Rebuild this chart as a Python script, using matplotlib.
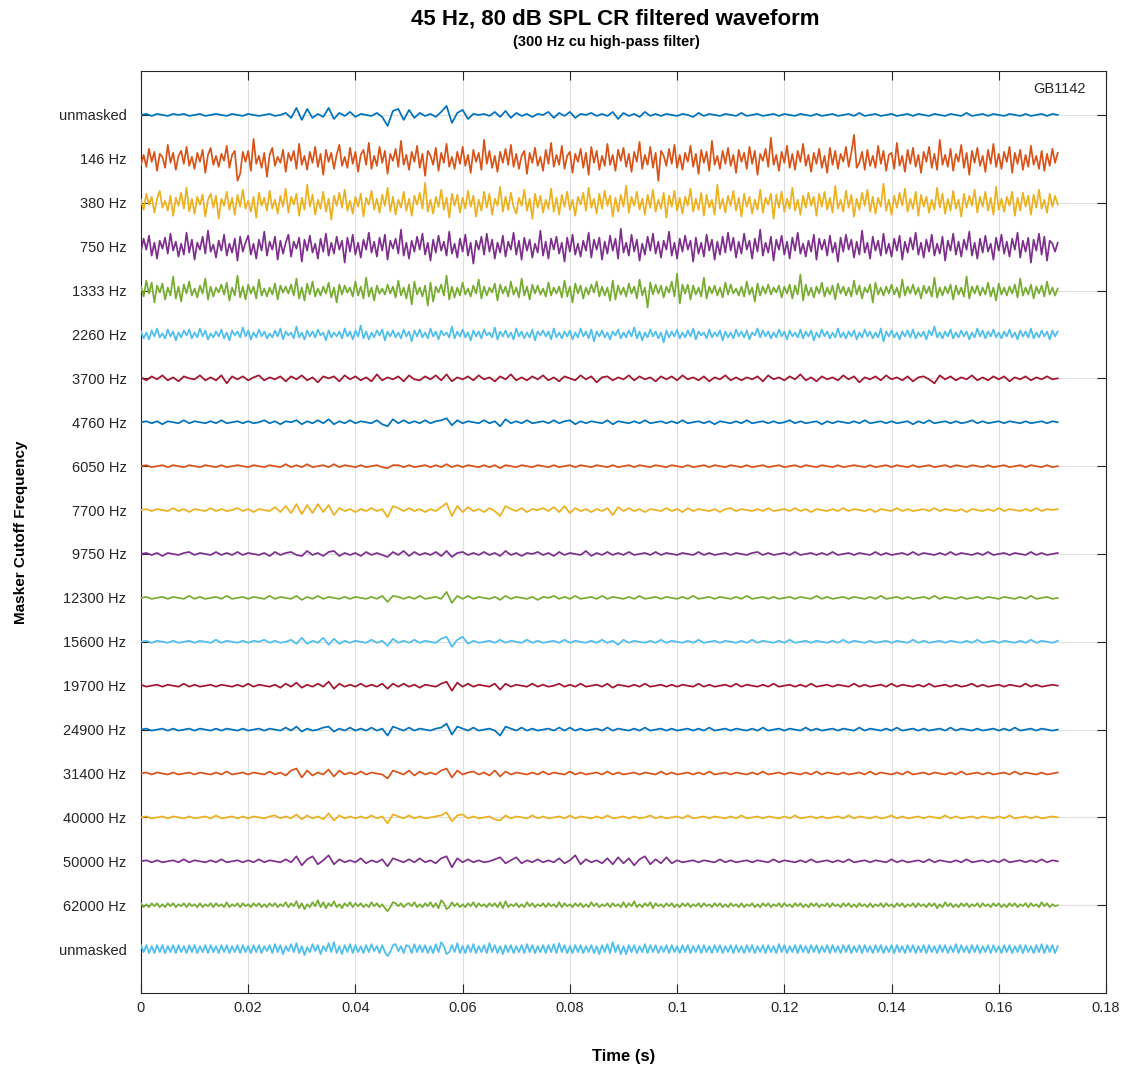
import numpy as np
import matplotlib
matplotlib.use("Agg")
import matplotlib.pyplot as plt

# Waveforms, in pixels of deflection (positive = up).
# "fine" traces are sampled every 0.5 ms, the rest every 1 ms.
DT_FINE = 0.0005
DT_COARSE = 0.001
PX_PER_ROW = 44.0

labels = ["unmasked", "146 Hz", "380 Hz", "750 Hz", "1333 Hz", "2260 Hz",
          "3700 Hz", "4760 Hz", "6050 Hz", "7700 Hz", "9750 Hz", "12300 Hz",
          "15600 Hz", "19700 Hz", "24900 Hz", "31400 Hz", "40000 Hz",
          "50000 Hz", "62000 Hz", "unmasked"]

unmasked_top = [
    0, 1, -1, 1, 0, -1, 1, 0, 1, -1, 0, 1, -1, 0, 1, 0, -1, 1, 0, -1,
    1, 0, -1, 0, 1, -1, 0, 2, -3, 7, -5, 6, -3, 1, -2, 7, -4, 2, -1, 3,
    -2, 1, 0, -1, 2, -2, -11, 4, 6, -5, 5, -3, 2, -1, 1, -2, 3, 9, -8, 2,
    5, -4, 1, 0, 1, -1, 3, -2, 4, -3, 2, -1, 1, -2, 1, 0, 3, -3, 2, -1,
    3, -3, 1, 0, 2, -1, 1, -1, 3, -4, 2, -1, 1, -2, 3, -1, 1, -1, 1, 0,
    -1, 1, 0, -2, 2, -1, 1, 0, -1, 1, 0, -1, 2, -1, 0, 1, -1, 0, 1, -1,
    1, 0, -1, 1, 0, -1, 1, -1, 0, 1, -1, 0, 1, -1, 2, -1, 0, 1, -1, 0,
    1, -1, 0, 1, -1, 1, 0, -1, 1, 0, -1, 1, 0, -1, 2, -1, 0, 1, -1, 1,
    0, -1, 1, 0, -1, 1, -1, 0, 1, -1, 1, 0]

m146 = [
    -6, 4, -8, 10, -3, 7, -12, 5, 2, -9, 14, -4, 6, -11, 3, 8, -5, 12, -7, 2,
    -10, 6, -3, 9, -14, 4, 11, -6, 3, -8, 5, -2, 13, -9, 4, 8, -22, -15, 7, -3,
    8, -12, 20, -5, 3, -9, 6, -18, 4, 11, -7, 2, -4, 9, -13, 6, -2, 8, -10, 15,
    -6, 3, -11, 7, -4, 12, -8, 5, -16, 9, -3, 6, -10, 4, 14, -7, 2, -9, 11, -5,
    7, -13, 4, 9, -6, 16, -10, 3, -7, 12, -4, 8, -15, 5, -2, 10, -8, 18, -6, 4,
    -11, 7, -3, 13, -9, 5, -17, 8, 3, -6, 11, -12, 6, -4, 15, -8, 2, -10, 7, -5,
    12, -7, 4, -14, 9, -3, 6, -11, 19, -5, 8, -9, 3, -13, 7, -4, 10, -6, 14, -8,
    5, -10, 3, 8, -15, 6, -4, 11, -7, 2, -12, 9, -5, 16, -8, 4, -6, 13, -10, 3,
    7, -14, 5, -3, 10, -9, 6, -16, 12, -4, 8, -11, 3, -7, 15, -6, 4, -12, 9, -2,
    11, -8, 5, -13, 7, -3, 17, -10, 4, -6, 12, -9, 6, -22, 8, 3, -7, 10, -5, 14,
    -9, 4, -11, 6, -3, 13, -8, 5, -15, 9, -4, 7, -12, 18, -6, 3, -10, 8, -5, 11,
    -7, 4, -14, 9, -3, 6, -10, 12, -5, 8, -16, 5, -2, 10, -8, 21, -6, 4, -12, 7,
    -4, 13, -9, 5, -11, 8, -3, 15, -7, 4, -13, 6, -5, 10, -9, 3, -14, 11, -6, 8,
    -10, 5, -3, 12, -8, 6, 24, -9, -4, 7, -11, 9, -7, 3, -9, 13, -5, 8, -12, 4,
    6, -10, 16, -7, 3, -13, 9, -5, 11, -8, 4, -14, 7, -3, 12, -9, 5, -11, 19, -6,
    4, -8, 10, -12, 5, -3, 14, -9, 6, -16, 8, -4, 11, -7, 3, -13, 9, -5, 15, -8,
    5, -10, 7, -3, 12, -14, 6, -5, 9, -11, 4, -8, 13, -6, 3, -10, 8, -12, 5, -7,
    10, -4, 6]

m380 = [
    3, -7, 9, -2, 6, -10, 4, 12, -5, 2, -8, 7, -13, 5, -3, 10, -6, 15, -9, 4,
    -11, 6, -2, 8, -14, 3, 9, -5, 7, -16, 4, -3, 11, -7, 5, -12, 8, -4, 13, -6,
    2, -9, 6, -15, 10, -3, 5, -8, 12, -6, 3, -11, 7, -4, 14, -10, 6, -2, 9, -13,
    5, -7, 18, -4, 8, -12, 3, -6, 11, -9, 4, -17, 7, -3, 10, -5, 13, -8, 2, -11,
    6, -4, 9, -14, 5, -2, 12, -7, 4, -10, 8, -3, 15, -9, 6, -12, 3, -5, 11, -8,
    4, -13, 7, -2, 10, -6, 20, -9, 3, -11, 6, -4, 13, -7, 5, -15, 9, -3, 8, -10,
    5, -6, 12, -4, 7, -14, 3, -8, 11, -5, 9, -12, 4, -3, 16, -9, 6, -7, 10, -4,
    -11, 5, -3, 13, -8, 4, -16, 9, -5, 7, -10, 3, -6, 14, -9, 5, -12, 8, -4, 11,
    -7, 3, -13, 6, -2, 10, -8, 15, -5, 4, -11, 9, -6, 12, -3, 7, -14, 5, -9, 8,
    -4, 17, -10, 6, -3, 11, -7, 4, -12, 8, -5, 13, -9, 3, -6, 10, -15, 7, -4, 12,
    -8, 5, -11, 6, -3, 14, -9, 4, -7, 10, -13, 8, -5, 3, -12, 18, -6, 4, -10, 7,
    -3, 12, -8, 5, -14, 9, -4, 6, -11, 3, -7, 13, -10, 5, -2, 9, -16, 8, -5, 11,
    -9, 4, -6, 15, -8, 3, -12, 7, -5, 10, -3, 6, -13, 9, -4, 11, -7, 5, -10, 17,
    -6, 3, -9, 12, -5, 8, -14, 4, -7, 10, -3, 13, -9, 6, -11, 5, -4, 19, -8, 3,
    -12, 7, -5, 10, -3, 14, -9, 4, -6, 11, -13, 8, -4, 6, -10, 3, -7, 15, -5, 9,
    -11, 4, -8, 12, -6, 3, -14, 9, -5, 7, -3, 13, -10, 6, -4, 11, -8, 5, -12, 16,
    -7, 4, -9, 6, -3, 11, -13, 5, -8, 10, -4, 7, -12, 8, -5, 13, -6, 3, -10, 9,
    -4, 7, -2]

m750 = [
    -5, 8, -3, 11, -9, 4, -12, 6, -2, 9, -7, 13, -4, 5, -10, 3, -8, 14, -6, 7,
    -13, 4, -3, 10, -7, 16, -5, 2, -11, 6, -4, 12, -9, 3, -6, 8, -14, 10, -5, 4,
    11, -8, 3, -12, 7, -4, 15, -9, 5, -3, 10, -13, 6, -7, 4, 12, -10, 5, -2, 9,
    -15, 7, -4, 11, -6, 3, -12, 8, -5, 13, -9, 4, -7, 10, -3, 6, -16, 9, -5, 12,
    -8, 4, -11, 7, -3, 14, -6, 5, -10, 9, -4, 12, -13, 6, -2, 8, -7, 17, -9, 4,
    -12, 6, -5, 10, -3, 13, -8, 4, -14, 7, -6, 11, -4, 5, -9, 15, -7, 3, -11, 8,
    -5, 12, -9, 4, -17, 6, -3, 10, -8, 13, -5, 7, -12, 4, -6, 11, -10, 5, -3, 14,
    -8, 6, -13, 9, -4, 7, -11, 3, -6, 16, -9, 5, -12, 8, -3, 10, -7, 4, -15, 9,
    -5, 12, -8, 3, -10, 6, -4, 14, -11, 7, -3, 9, -13, 5, -7, 11, -4, 8, -12, 18,
    -6, 4, -9, 12, -5, 7, -14, 3, -8, 10, -4, 13, -7, 5, -11, 6, -3, 15, -9, 4,
    -12, 8, -5, 11, -3, 6, -15, 9, -7, 4, -10, 12, -4, 7, -13, 5, -8, 10, -6, 14,
    -4, 9, -11, 5, -7, 13, -3, 6, -12, 8, -5, 17, -9, 4, -6, 10, -14, 7, -3, 11,
    -8, 5, -12, 9, -4, 14, -7, 3, -10, 6, -5, 12, -13, 8, -3, 7, -9, 11, -6, 4,
    -15, 9, -5, 12, -3, 7, -11, 5, -8, 16, -6, 4, -12, 10, -4, 6, -9, 13, -7, 3,
    -10, 8, -4, 11, -13, 5, -6, 9, -3, 14, -8, 4, -11, 7, -5, 12, -9, 3, -7, 10,
    -14, 6, -4, 13, -8, 5, -10, 7, -3, 15, -9, 4, -12, 8, -6, 11, -5, 3, -13, 9,
    -4, 12, -7, 5, -10, 8, -3, 14, -11, 6, -5, 9, -16, 7, -4, 13, -8, 10, -14, 6,
    3, -5, 4]

m1333 = [
    4, -6, 10, -3, 8, -12, 5, -2, 7, -9, 3, -5, 14, -8, 4, -11, 6, -3, 9, -5,
    2, -7, 5, -3, 12, -9, 4, -6, 3, -2, 6, -4, 8, -10, 3, -5, 15, -7, 4, -9,
    6, -3, 4, -8, 11, -5, 2, -6, 3, -4, 7, -9, 5, -2, 4, -3, 6, -5, 12, -8,
    3, -10, 7, -4, 9, -6, 2, -5, 4, -3, 8, -7, 3, -12, 6, -4, 5, -2, 3, -6,
    9, -5, 4, -8, 13, -6, 3, -10, 5, -3, 2, -4, 6, -3, 4, -7, 10, -5, 3, -8,
    6, -14, 9, -4, 3, -6, 5, -15, 8, -11, 4, -2, 6, -5, 15, -9, 4, -7, 3, -5,
    8, -4, 2, -6, 5, -3, 11, -8, 4, -5, 3, -2, 7, -10, 6, -3, 4, -6, 9, -4,
    3, -7, 12, -5, 4, -9, 6, -3, 5, -4, 2, -6, 8, -5, 3, -3, 4, -7, 10, -6,
    4, -12, 7, -3, 5, -8, 3, -4, 6, -2, 9, -6, 4, -5, 3, -10, 10, -9, 5, -4,
    3, -6, 7, -3, 4, -8, 11, -5, 3, -17, 8, -4, 6, -3, 5, -7, 4, -2, 9, -6,
    17, -13, 6, -3, 6, -9, 5, -4, 3, -6, 13, -8, 4, -3, 5, -5, 3, -7, 8, -4,
    6, -3, 2, -5, 4, -6, 9, -4, 3, -11, 7, -5, 4, -3, 6, -4, 3, -2, 5, -7,
    4, -3, 6, -8, 5, -4, 16, -10, 6, -5, 3, -7, 4, -3, 8, -6, 3, -4, 5, -9,
    7, -3, 4, -5, 3, -6, 10, -4, 5, -8, 3, -2, 6, -12, 8, -4, 3, -5, 4, -3,
    6, -4, 3, -7, 11, -5, 4, -3, 6, -4, 3, -8, 5, -3, 4, -6, 13, -7, 3, -5,
    4, -3, 6, -9, 5, -4, 3, -6, 14, -8, 4, -3, 5, -5, 3, -4, 8, -6, 3, -10,
    7, -4, 3, -5, 4, -3, 6, -7, 12, -5, 3, -4, 6, -8, 4, -3, 5, -6, 9, -4,
    3, -5, 2]

m2260 = [
    3, -4, 2, -5, 4, -2, 6, -3, 1, -4, 5, -2, 3, -6, 2, -3, 4, -1, 5, -4,
    2, -3, 6, -2, 4, -5, 1, -3, 3, -2, 5, -4, 2, -6, 4, -1, 3, -3, 7, -2,
    4, -5, 2, -3, 5, -2, 3, -4, 1, -3, 4, -2, 6, -5, 3, -1, 2, -4, 8, -3,
    2, -5, 4, -2, 3, -3, 5, -1, 2, -6, 4, -3, 2, -2, 3, -4, 6, -2, 3, -5,
    4, -2, 9, -4, 3, -5, 2, -3, 4, -1, 5, -6, 3, -2, 4, -3, 2, -4, 5, -2,
    3, -7, 4, -2, 5, -3, 2, -4, 6, -2, 3, -5, 4, -1, 2, -3, 8, -4, 3, -2,
    5, -3, 2, -6, 4, -2, 3, -4, 5, -1, 2, -3, 7, -5, 3, -2, 4, -3, 2, -5,
    6, -2, 3, -4, 2, -3, 5, -6, 3, -1, 4, -2, 3, -5, 6, -3, 2, -4, 3, -2,
    4, -5, 2, -3, 6, -2, 3, -4, 5, -7, 3, -2, 4, -3, 2, -5, 3, -1, 5, -4,
    2, -3, 4, -2, 7, -4, 3, -6, 2, -3, 5, -2, 3, -4, 2, -8, 4, -3, 3, -2,
    5, -4, 2, -3, 4, -2, 6, -5, 3, -1, 2, -4, 5, -3, 2, -2, 4, -6, 3, -3,
    2, -4, 5, -2, 3, -3, 4, -5, 2, -1, 6, -3, 4, -2, 3, -4, 2, -3, 5, -2,
    3, -5, 4, -2, 2, -3, 5, -4, 3, -2, 4, -6, 2, -3, 5, -2, 3, -4, 2, -3,
    6, -3, 2, -4, 3, -2, 4, -5, 2, -3, 5, -2, 3, -4, 2, -3, 6, -7, 3, -2,
    4, -3, 2, -5, 3, -2, 4, -3, 5, -4, 2, -2, 3, -5, 4, -1, 8, -3, 2, -4,
    3, -2, 5, -4, 2, -3, 4, -2, 3, -5, 2, -3, 6, -2, 4, -4, 3, -2, 5, -3,
    2, -4, 3, -2, 5, -3, 2, -5, 4, -2, 3, -3, 6, -4, 2, -3, 4, -2, 3, -5,
    4, -2, 3]

m3700 = [
    1, -2, 2, -1, 3, -2, 1, -3, 2, 0, -1, 3, -2, 1, -2, 3, -5, 2, -1, 2,
    -2, 1, 3, -2, 1, -1, 2, -3, 2, -1, 3, -2, 1, -4, 2, 0, 2, -3, 3, -1,
    2, -2, 1, -3, 4, -2, 1, -1, 2, -3, 3, -1, -2, 2, -1, 3, -2, 4, -3, 1,
    -1, 2, -2, 3, -1, 1, -3, 2, -1, 4, -2, 1, -2, 2, -1, 3, -2, 1, -3, 2,
    0, -2, 3, -1, 2, -4, 1, 2, -2, 1, -1, 3, -2, 2, -1, 1, -3, 2, -1, 2,
    -2, 3, -1, 1, -2, 2, -3, 1, -1, 3, -2, 1, -2, 1, -1, 2, -3, 3, -1, 1,
    -2, 2, -1, 4, -2, 1, -3, 2, -1, 1, -2, 3, -1, 2, -4, 1, -1, 2, -2, 3,
    -1, 1, -2, 2, -3, 1, 2, -1, -5, 3, -1, 2, -2, 1, -1, 3, -2, 1, -2, 2,
    -1, 2, -3, 1, -1, 2, -2, 1, -1, 2, -1, 0]

m4760 = [
    0, 1, -1, 1, -2, 1, 0, -1, 2, -1, 1, 0, -1, 1, -1, 2, -1, 0, 1, -1,
    1, -1, 0, 2, -1, 1, -2, 1, 0, 2, -2, 1, -1, 2, -1, 3, -2, 1, -1, 2,
    -1, 1, 0, -1, 2, -2, -4, 3, -1, 2, -1, 1, -1, 2, -1, 1, 2, 4, -3, 2,
    -1, 1, 0, -1, 2, -1, 1, -4, 3, -1, 1, -1, 2, -1, 0, 1, -1, 2, -1, 1,
    2, -2, 1, -1, 1, 0, -1, 2, -2, 1, 0, -1, 1, -1, 2, -1, 0, 1, -1, 1,
    -1, 2, -1, 0, 1, -1, 1, -2, 1, 0, -1, 1, -1, 2, -1, 0, 1, -1, 1, -1,
    0, 2, -1, 1, -1, 0, 1, -2, 1, -1, 1, 0, -1, 1, -1, 2, -1, 0, 1, -1,
    1, -1, 0, 1, -2, 1, -1, 2, -1, 0, 1, -1, 1, -1, 0, 2, -1, 1, -1, 0,
    1, -1, 1, 0, -1, 1, -1, 0, 1, -1, 1, 0]

m6050 = [
    0, 1, -1, 0, 1, -1, 1, 0, -1, 1, 0, -1, 1, 0, -1, 1, -1, 0, 1, 0,
    -1, 1, 0, -1, 1, 0, -1, 2, -1, 1, -1, 2, -1, 0, 1, -1, 2, -1, 1, 0,
    -1, 1, -1, 0, 1, -1, -2, 1, 1, -1, 1, -1, 0, 1, -1, 1, -1, 2, -1, 1,
    -1, 1, 0, -1, 1, -1, 1, -2, 1, 0, -1, 1, 0, -1, 1, 0, -1, 1, -1, 0,
    1, -1, 1, 0, -1, 1, 0, -1, 1, -1, 0, 1, -1, 1, 0, -1, 1, 0, -1, 1,
    0, -1, 1, -1, 0, 1, -1, 1, 0, -1, 1, 0, -1, 1, -1, 0, 1, -1, 0, 1,
    -1, 0, 1, -1, 1, 0, -1, 1, 0, -1, 1, -1, 0, 1, 0, -1, 1, -1, 0, 1,
    -1, 1, 0, -1, 1, -1, 0, 1, -1, 0, 1, -1, 1, 0, -1, 1, 0, -1, 1, -1,
    0, 1, -1, 0, 1, -1, 1, 0, -1, 1, -1, 0]

m7700 = [
    0, 1, -1, 1, 0, -1, 2, -1, 1, -2, 1, 0, -1, 2, -1, 1, -1, 0, 2, -1,
    1, -2, 1, 0, -1, 3, -2, 4, -3, 6, -4, 5, -3, 6, -2, 5, -5, 2, -1, 1,
    -2, 1, -1, 2, -1, 1, -7, 4, 2, -1, 2, -1, 1, -2, 1, -1, 3, 7, -6, 4,
    -2, 3, -1, 1, -2, 2, -1, -6, 4, 1, -1, 2, -2, 1, 0, 2, -1, 3, -2, 4,
    -3, 2, -1, 1, -2, 1, -1, 2, -5, 3, -1, 2, -1, 1, -2, 1, 0, -1, 2, -1,
    1, -2, 2, -1, 1, 0, -1, 1, -2, 1, 2, -1, 1, 0, -1, 1, -1, 2, -1, 0,
    1, -1, 2, -1, 1, -2, 1, 0, -1, 1, -1, 2, -1, 1, 0, -1, 1, -2, 1, 0,
    -1, 2, -1, 1, -1, 0, 1, -1, 2, -1, 1, 0, -1, 1, -2, 1, 0, -1, 1, -1,
    2, -1, 1, 0, -1, 1, -1, 2, -1, 1, 0, 1]

m9750 = [
    0, 1, -1, 1, -2, 1, 0, -1, 1, 2, -1, 1, 0, -1, 2, -1, 1, -1, 2, -1,
    1, 0, -1, 1, -2, 2, -1, 1, 2, -1, -2, 3, -1, 1, -2, 2, 3, -2, 1, -1,
    1, -2, 2, -1, 1, -1, -3, 2, -1, 3, -2, 2, -1, 1, -1, 2, -2, 3, -3, 1,
    2, -1, 1, -1, 2, -1, 1, -2, 3, -1, 1, -2, 1, 0, 2, -1, 1, -2, 2, -1,
    1, 0, -1, 3, -2, 1, -1, 2, -1, 1, -1, 2, -1, 0, 1, -1, 2, -1, 1, 0,
    -1, 1, 0, -1, 2, -1, 1, -1, 0, 1, -1, 1, 0, -1, 1, 2, -1, 1, -1, 0,
    1, -1, 2, -1, 0, 1, -1, 1, -1, 2, -1, 0, 1, -1, 1, 0, -1, 2, -1, 1,
    -1, 0, 1, -1, 2, -1, 1, 0, -1, 1, -1, 2, -1, 1, 0, -1, 1, -1, 2, -1,
    0, 1, -1, 1, 0, -1, 2, -1, 1, -1, 0, 1]

m12300 = [
    0, 1, -1, 0, 1, -1, 1, 0, -1, 2, -1, 1, -1, 0, 1, -1, 2, -1, 0, 1,
    -1, 1, 0, -1, 2, -1, 1, 0, -1, 2, -2, 1, -1, 2, -1, 1, 0, -1, 1, -1,
    1, 0, -1, 1, -1, 2, -4, 2, 1, -1, 1, -1, 2, -1, 0, 1, -1, 6, -5, 2,
    -1, 2, -1, 1, 0, -1, 1, -2, 2, -1, 1, 0, -1, 1, -2, 1, 0, 2, -1, 1,
    -1, 2, -1, 0, 1, -1, 2, -1, 1, 0, -1, 1, -1, 2, -1, 0, 1, -1, 1, 0,
    -1, 1, -1, 2, -1, 0, 1, -1, 1, 0, -1, 1, -1, 2, -1, 0, 1, -1, 1, -1,
    0, 1, -1, 1, 0, -1, 2, -1, 1, -1, 0, 1, -1, 1, 0, -1, 1, -1, 2, -1,
    0, 1, -1, 1, -1, 0, 1, -1, 2, -1, 1, 0, -1, 1, -1, 0, 1, -1, 1, 0,
    -1, 1, 0, -1, 1, -1, 2, -1, 0, 1, -1, 0]

m15600 = [
    0, 1, -1, 1, 0, -1, 1, -1, 0, 1, -1, 1, 0, -1, 2, -1, 1, 0, -1, 1,
    -1, 1, 0, 2, -1, 1, -1, 0, 2, -2, 4, -2, 1, -1, 4, -3, 3, -2, 1, -1,
    1, 0, -1, 2, -1, 1, -4, 3, -1, 1, -1, 2, -1, 1, 0, -1, 3, 5, -5, 2,
    5, -2, 1, -1, 0, 1, -1, 2, -1, 1, 0, -1, 2, -1, 1, -1, 0, 1, -1, 2,
    -1, 1, 0, -1, 1, -1, 2, -1, 1, -3, 2, -1, 1, 0, -1, 1, -1, 2, -1, 1,
    0, -1, 1, -1, 2, -1, 0, 1, -1, 1, 0, -1, 1, -1, 2, -1, 1, 0, -1, 1,
    -1, 2, -1, 0, 1, -1, 1, 0, -1, 1, -1, 2, -1, 1, 0, -1, 1, -1, 0, 1,
    -1, 1, 0, -1, 2, -1, 1, -1, 0, 1, -1, 1, 0, -1, 1, -1, 2, -1, 0, 1,
    -1, 1, 0, -1, 1, -1, 2, -1, 1, 0, -1, 1]

m19700 = [
    1, -1, 0, 1, -1, 1, 0, -1, 2, -1, 1, -1, 0, 1, -1, 1, 0, -1, 1, -1,
    2, -1, 1, 0, -1, 1, -2, 2, -1, 3, -2, 1, -1, 2, -1, 4, -3, 2, -1, 1,
    -1, 2, -1, 1, -1, 2, -3, 2, -1, 2, -1, 1, -2, 1, 0, -1, 2, 4, -5, 3,
    -1, 2, -1, 1, 0, -1, 2, -4, 2, -1, 1, 0, -1, 2, -1, 1, -1, 0, 2, -1,
    1, -1, 2, -1, 0, 1, -1, 2, -2, 1, 0, -1, 1, -1, 2, -1, 0, 1, -1, 1,
    -1, 1, 0, -1, 2, -1, 1, -1, 0, 1, -1, 2, -1, 1, 0, -1, 1, -1, 2, -1,
    0, 1, -1, 1, -1, 2, -1, 0, 1, -1, 1, 0, -1, 2, -1, 1, -1, 0, 1, -1,
    2, -1, 1, 0, -1, 1, -1, 2, -1, 0, 1, -1, 1, -1, 0, 2, -1, 1, -1, 0,
    1, -1, 1, 0, -1, 2, -1, 1, -1, 0, 1, 0]

m24900 = [
    0, 1, -1, 0, 1, -1, 1, -1, 0, 1, -1, 1, 0, -1, 1, -1, 1, 0, -1, 1,
    -1, 0, 1, -1, 1, 0, -1, 2, -1, 3, -2, 1, -1, 0, 2, 3, -2, 1, -1, 2,
    -1, 1, -1, 2, -1, 1, -6, 3, 1, -1, 2, -1, 1, 0, -1, 1, 2, 6, -5, 3,
    1, -1, 2, -1, 0, 1, -1, -6, 3, 1, -1, 2, -1, 1, -1, 0, 1, -1, 2, -1,
    2, -1, 1, -1, 0, 1, -1, 2, -1, 1, 0, -1, 1, -1, 2, -1, 0, 1, -1, 1,
    -1, 0, 1, -1, 1, -1, 2, -1, 0, 1, -1, 1, 0, -1, 1, -1, 2, -1, 0, 1,
    -1, 1, 0, -1, 2, -1, 1, -1, 0, 1, -1, 1, 0, -1, 2, -1, 1, 0, -1, 1,
    -1, 2, -1, 0, 1, -1, 1, -1, 0, 1, -1, 2, -1, 1, 0, -1, 1, -1, 0, 1,
    -1, 1, -1, 2, -1, 0, 1, -1, 1, 0, -1, 0]

m31400 = [
    0, 1, -1, 1, 0, -1, 1, -1, 0, 1, -1, 1, 0, -1, 1, -1, 2, -1, 0, 1,
    -1, 1, 0, -1, 2, -1, 1, -2, 3, 5, -4, 3, -2, 1, -1, 4, -3, 3, -1, 1,
    -1, 2, -1, 1, 0, -1, -5, 3, 1, -1, 3, -2, 2, -1, 1, -1, 3, 5, -4, 3,
    -1, 1, 2, -1, 1, -2, 3, -3, 2, -1, 1, 0, -1, 1, -1, 2, -1, 1, 0, -1,
    2, -1, 1, -1, 0, 1, -1, 2, -1, 1, -1, 0, 1, -1, 1, 0, -1, 2, -1, 1,
    -1, 0, 1, -1, 1, -1, 2, -1, 0, 1, -1, 1, 0, -1, 1, -1, 2, -1, 0, 1,
    -1, 1, 0, -1, 1, -1, 2, -1, 1, 0, -1, 1, -1, 0, 1, -1, 2, -1, 1, 0,
    -1, 1, -1, 2, -1, 0, 1, -1, 1, 0, -1, 1, -1, 2, -1, 0, 1, -1, 1, -1,
    0, 1, -1, 2, -1, 1, 0, -1, 1, -1, 0, 1]

m40000 = [
    0, 1, -1, 0, 1, -1, 1, 0, -1, 1, -1, 0, 1, -1, 2, -1, 0, 1, -1, 1,
    -1, 1, 0, -1, 1, 2, -1, 1, -1, 3, -2, 2, -1, 1, -2, 4, -3, 2, -1, 1,
    -1, 1, -1, 2, -1, 1, -6, 3, 1, -1, 2, -1, 1, -1, 0, 1, 2, 5, -4, 2,
    3, -1, 1, -1, 0, 1, -2, -3, 2, -1, 1, 0, -1, 2, -1, 1, -1, 0, 1, -1,
    2, -1, 1, 0, -1, 1, -1, 2, -1, 0, 1, -1, 1, -1, 0, 2, -1, 1, -1, 0,
    1, -1, 2, -1, 0, 1, -1, 1, 0, -1, 1, -1, 2, -1, 0, 1, -1, 1, 0, -1,
    1, -1, 2, -1, 0, 1, -1, 1, -1, 0, 1, -1, 2, -1, 1, 0, -1, 1, -1, 0,
    2, -1, 1, -1, 0, 1, -1, 1, 0, -1, 2, -1, 1, -1, 0, 1, -1, 1, 0, -1,
    1, -1, 2, -1, 0, 1, -1, 1, -1, 0, 1, 0]

m50000 = [
    0, 1, -1, 1, -1, 0, 1, -1, 2, -1, 1, 0, -1, 1, -1, 2, -1, 0, 1, -1,
    1, -1, 2, -1, 1, 0, -1, 2, -1, 5, -4, 2, 5, -3, 1, 6, -3, 2, -1, 1,
    -1, 3, -2, 1, -1, 2, -5, 3, 1, -1, 2, -1, 3, -1, 1, -2, 3, 5, -6, 3,
    -1, 2, -1, 1, -1, 0, 2, 4, -2, 1, 4, -2, 1, -1, 2, -1, 1, -1, 3, -2,
    1, 6, -3, 2, -1, 1, -2, 3, -3, 4, -2, 3, -4, 2, 5, -3, 2, -2, 4, -2,
    1, -1, 0, 1, -1, 1, 0, -1, 2, -1, 1, -1, 0, 1, -1, 1, 0, -1, 2, -1,
    1, 0, -1, 1, -1, 2, -1, 0, 1, -1, 1, -1, 2, -1, 0, 1, -1, 1, 0, -1,
    2, -1, 1, -1, 0, 1, -1, 2, -1, 1, 0, -1, 1, -1, 2, -1, 0, 1, -1, 1,
    -1, 2, -1, 0, 1, -1, 1, -1, 2, -1, 1, 0]

m62000 = [
    2, -2, 1, -2, 2, -1, 2, -2, 1, -2, 2, -1, 2, -2, 1, -1, 2, -2, 2, -1,
    1, -2, 2, -2, 1, -1, 2, -2, 2, -1, 1, -2, 3, -2, 1, -1, 2, -2, 2, -1,
    1, -2, 2, -1, 2, -2, 1, -2, 2, -1, 2, -2, 1, -1, 3, -2, 2, -1, 4, -3,
    2, -4, 1, -2, 3, -1, 5, -2, 3, -3, 2, -1, 4, -2, 1, -3, 2, -1, 3, -2,
    2, -1, 2, -2, 1, -2, 3, -1, 2, -2, 1, -3, -6, -2, 3, 2, -1, 2, -2, 1,
    2, -1, 3, -2, 1, -2, 2, -1, 3, -2, 2, -3, 5, 2, -4, -2, 3, -1, 2, -2,
    1, -2, 2, -1, 3, -2, 2, -1, 1, -2, 2, -1, 2, -2, 3, -3, 4, -2, 1, -1,
    2, -2, 1, -2, 3, -1, 2, -2, 1, -1, 2, -2, 2, -1, 1, -2, 3, -2, 2, -1,
    1, -2, 2, -1, 2, -2, 1, -2, 3, -1, 2, -2, 1, -1, 2, -2, 2, -1, 1, -2,
    3, -2, 2, -1, 4, -2, 1, -2, 2, -1, 3, -3, 2, -1, 1, -2, 2, -1, 2, -2,
    1, -2, 2, -1, 2, -2, 1, -1, 2, -2, 2, -1, 1, -2, 2, -1, 2, -2, 1, -2,
    2, -1, 1, -2, 2, -2, 1, -1, 2, -2, 1, -2, 2, -1, 2, -2, 1, -1, 2, -2,
    2, -1, 1, -2, 2, -1, 2, -2, 1, -2, 2, -1, 2, -2, 1, -1, 2, -2, 2, -1,
    1, -2, 2, -1, 2, -2, 1, -2, 2, -1, 1, -2, 2, -2, 1, -1, 2, -2, 2, -1,
    1, -2, 2, -1, 2, -2, 1, -1, 2, -2, 2, -1, 1, -2, 2, -1, 2, -3, 1, -2,
    3, -1, 2, -2, 1, -2, 2, -1, 2, -2, 1, -1, 2, -2, 2, -1, 1, -2, 2, -1,
    2, -2, 1, -2, 2, -1, 2, -2, 1, -1, 2, -2, 2, -1, 1, -2, 3, -1, 2, -2,
    1, -1, 0]

unmasked_bottom = [
    4, -3, 4, -4, 3, -4, 4, -3, 4, -4, 3, -3, 4, -4, 4, -3, 3, -4, 4, -3,
    4, -4, 3, -3, 4, -4, 4, -3, 3, -4, 4, -3, 4, -4, 3, -3, 4, -4, 4, -3,
    3, -4, 4, -3, 4, -4, 3, -2, 4, -4, 5, -3, 4, -5, 3, -2, 5, -3, 6, -4,
    3, -6, 2, -3, 5, -2, 4, -5, 3, -2, 6, -3, 7, -4, 3, -5, 4, -3, 5, -4,
    4, -3, 3, -4, 4, -3, 5, -2, 3, -4, 4, -3, -7, -3, 4, 5, -2, 3, -4, 4,
    3, -4, 5, -3, 4, -3, 4, -4, 3, -4, 5, -3, 7, 3, -5, -3, 4, -3, 6, -4,
    3, -4, 4, -3, 5, -4, 3, -3, 4, -4, 6, -3, 4, -4, 3, -5, 4, -3, 4, -4,
    3, -3, 4, -4, 5, -3, 4, -4, 3, -3, 4, -4, 4, -3, 5, -4, 6, -3, 4, -4,
    3, -4, 4, -3, 4, -4, 3, -3, 4, -4, 3, -5, 4, -3, 5, -4, 7, -3, 4, -5,
    3, -5, 4, -3, 4, -4, 3, -3, 5, -4, 4, -3, 4, -4, 3, -3, 4, -4, 4, -3,
    3, -4, 4, -3, 4, -4, 3, -3, 4, -4, 4, -3, 3, -4, 4, -3, 4, -4, 3, -3,
    4, -4, 4, -3, 3, -4, 4, -3, 4, -4, 3, -3, 4, -4, 4, -3, 3, -4, 5, -3,
    4, -4, 3, -3, 4, -4, 4, -3, 3, -4, 4, -3, 4, -4, 3, -3, 4, -4, 4, -3,
    3, -4, 4, -3, 4, -4, 3, -3, 4, -4, 4, -3, 3, -4, 4, -3, 4, -4, 3, -3,
    4, -4, 4, -3, 3, -4, 4, -3, 4, -4, 3, -3, 4, -4, 4, -3, 3, -4, 4, -3,
    4, -4, 3, -3, 5, -4, 4, -3, 3, -4, 4, -3, 4, -4, 3, -3, 4, -4, 4, -3,
    3, -4, 4, -3, 4, -4, 3, -3, 4, -4, 4, -3, 3, -4, 4, -3, 5, -4, 4, -3,
    4, -4, 3]

# top to bottom, with sample step of each
traces = [
    (unmasked_top, DT_COARSE), (m146, DT_FINE), (m380, DT_FINE),
    (m750, DT_FINE), (m1333, DT_FINE), (m2260, DT_FINE),
    (m3700, DT_COARSE), (m4760, DT_COARSE), (m6050, DT_COARSE),
    (m7700, DT_COARSE), (m9750, DT_COARSE), (m12300, DT_COARSE),
    (m15600, DT_COARSE), (m19700, DT_COARSE), (m24900, DT_COARSE),
    (m31400, DT_COARSE), (m40000, DT_COARSE), (m50000, DT_COARSE),
    (m62000, DT_FINE), (unmasked_bottom, DT_FINE),
]

# MATLAB default line colours
colors = ["#0072BD", "#D95319", "#EDB120", "#7E2F8E",
          "#77AC30", "#4DBEEE", "#A2142F"]

plt.rcParams['font.family'] = ['Liberation Sans', 'DejaVu Sans']

fig = plt.figure(figsize=(11.25, 10.68), dpi=100)
ax = fig.add_axes([0.1253, 0.0702, 0.8578, 0.8633])

n = len(traces)
rows = np.arange(n, 0, -1)  # 20 at top, 1 at bottom
for i, (vals, dt) in enumerate(traces):
    v = np.array(vals, dtype=float)
    t = np.arange(len(v)) * dt
    ax.plot(t, rows[i] + v / PX_PER_ROW, color=colors[i % len(colors)],
            lw=1.25, zorder=3)

ax.set_xlim(0, 0.18)
ax.set_ylim(0, n + 1)
ax.set_xticks(np.arange(0, 0.181, 0.02))
ax.set_xticklabels(["0", "0.02", "0.04", "0.06", "0.08", "0.1", "0.12",
                    "0.14", "0.16", "0.18"])
# tick marks and grid every other row, a label on every row
ax.yaxis.remove_overlapping_locs = False
ax.set_yticks(np.arange(2, n + 1, 2))
ax.set_yticklabels([])
ax.set_yticks(rows, labels, minor=True)

ax.tick_params(which='major', direction='in', length=6.5, width=0.8,
               top=True, right=True, colors='#262626', labelsize=10.5, pad=6)
ax.tick_params(axis='y', which='minor', length=0, labelsize=10.5, pad=10.5,
               colors='#262626', left=True, right=False)
ax.grid(True, which='major', color='#dedede', lw=0.8, zorder=0)
for s in ax.spines.values():
    s.set_color('#262626')
    s.set_linewidth(0.8)

ax.set_xlabel("Time (s)", fontsize=12, fontweight='bold', labelpad=24)
ax.set_ylabel("Masker Cutoff Frequency", fontsize=11, fontweight='bold',
              labelpad=22)
ax.text(0.979, 0.988, "GB1142", transform=ax.transAxes, ha='right',
        va='top', fontsize=10.5, color='#262626')

fig.text(0.5467, 0.9925, "45 Hz, 80 dB SPL CR filtered waveform",
         ha='center', va='top', fontsize=16, fontweight='bold')
fig.text(0.5387, 0.967, "(300 Hz cu high-pass filter)",
         ha='center', va='top', fontsize=10.5, fontweight='bold')

fig.savefig("out.png", dpi=100)
